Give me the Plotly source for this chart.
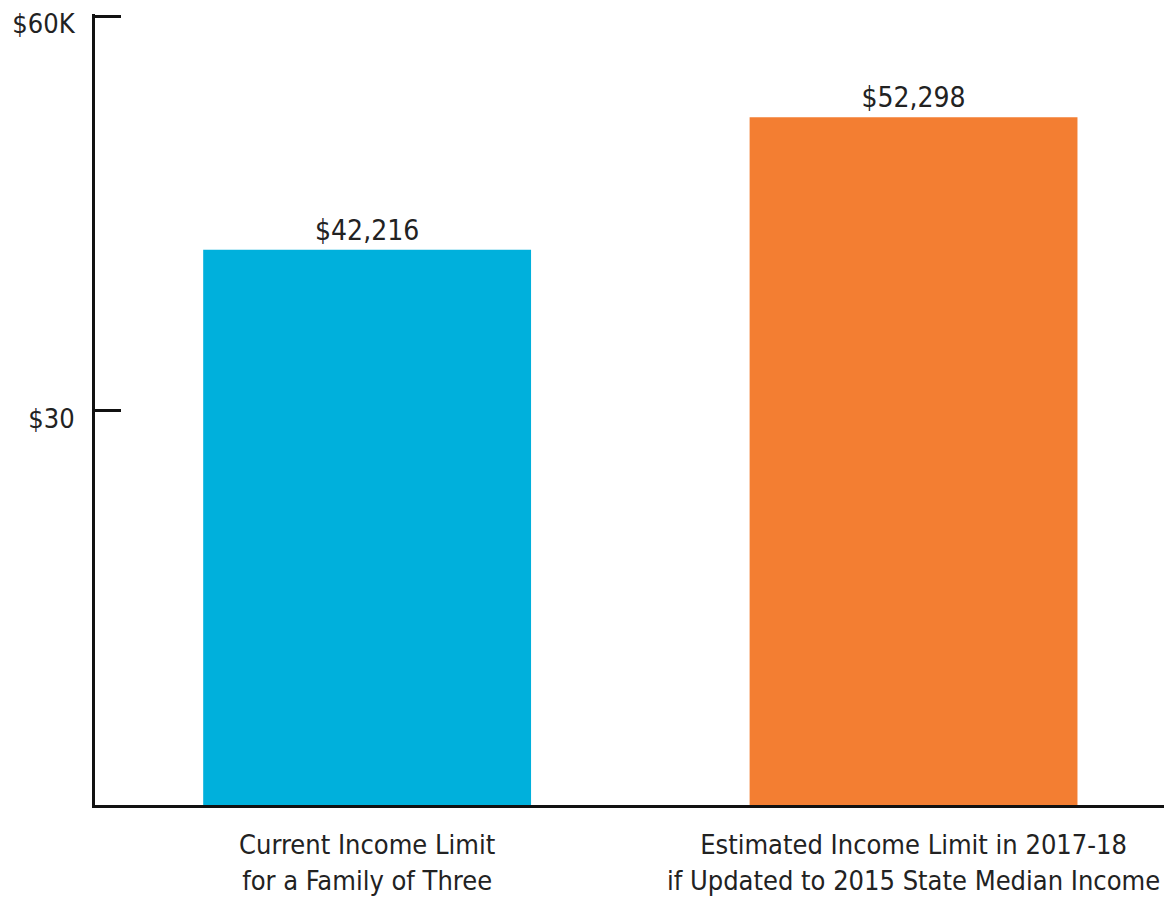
import plotly.graph_objects as go

categories = ["Current Income Limit<br>for a Family of Three",
              "Estimated Income Limit in 2017-18<br>if Updated to 2015 State Median Income"]
values = [42216, 52298]
value_labels = ["$42,216", "$52,298"]
colors = ["#00B0DC", "#F37E32"]
tick_vals = [0, 30000, 60000]
tick_text = ["", "$30", "$60K"]

FONT = "DejaVu Sans Condensed, Liberation Sans Narrow, Roboto Condensed, sans-serif"

fig = go.Figure(go.Bar(
    x=categories, y=values, marker=dict(color=colors, line=dict(width=0)),
    width=0.6, text=value_labels, textposition="outside",
    textfont=dict(family=FONT, size=28, color="#222"), cliponaxis=False,
))
fig.update_layout(
    width=1164, height=888, plot_bgcolor="white", paper_bgcolor="white",
    margin=dict(l=87, r=0, t=6, b=91, autoexpand=False), showlegend=False,
    font=dict(family=FONT, size=27, color="#222"),
)
fig.update_xaxes(range=[-0.498, 1.473], showline=True, linecolor="#111", linewidth=3,
                 ticks="", showgrid=False, automargin=False, fixedrange=True,
                 ticklabelstandoff=14)
fig.update_yaxes(range=[0, 60152], tickvals=tick_vals, ticktext=tick_text,
                 showline=True, linecolor="#111", linewidth=3, ticks="inside",
                 ticklen=26, tickwidth=3, tickcolor="#111", showgrid=False,
                 zeroline=False, ticklabelstandoff=12, ticklabelshift=8,
                 automargin=False, ticklabeloverflow="allow")
fig.write_html("out.html")
